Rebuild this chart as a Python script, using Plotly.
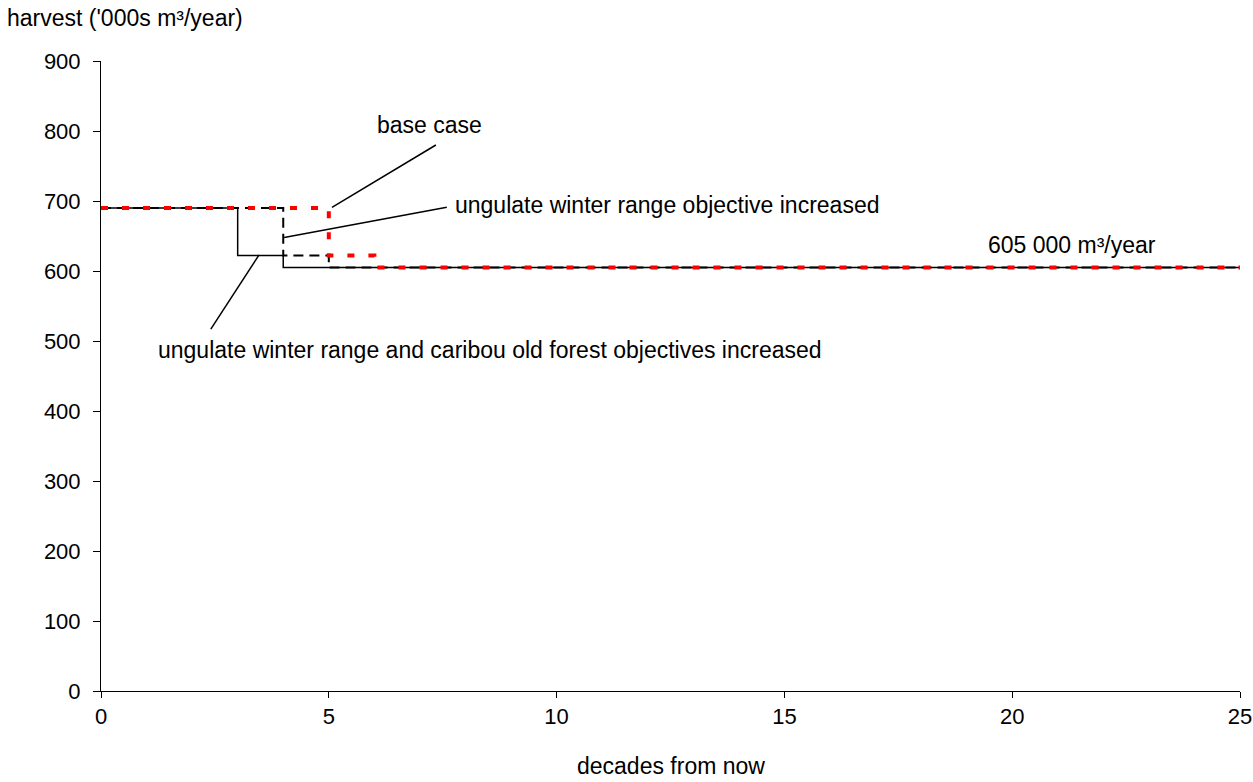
import plotly.graph_objects as go

decades = list(range(0, 26))
base_case = [690] * 5 + [622] + [605] * 20
ungulate_increased = [690] * 4 + [622] + [605] * 21
ungulate_caribou_increased = [690] * 3 + [622] + [605] * 22

x_ticks = [0, 5, 10, 15, 20, 25]
y_ticks = [0, 100, 200, 300, 400, 500, 600, 700, 800, 900]

FONT = "Liberation Sans, Arial, sans-serif"
FS = 23

fig = go.Figure()
fig.add_trace(go.Scatter(x=decades, y=ungulate_caribou_increased, mode="lines",
                         line=dict(color="black", width=1.5, shape="hv"),
                         name="ungulate winter range and caribou old forest objectives increased"))
fig.add_trace(go.Scatter(x=decades, y=ungulate_increased, mode="lines",
                         line=dict(color="black", width=2, dash="10px,6px", shape="hv"),
                         name="ungulate winter range objective increased"))
fig.add_trace(go.Scatter(x=decades, y=base_case, mode="lines",
                         line=dict(color="#ff0000", width=4, dash="7px,14px", shape="hv"),
                         name="base case"))

# leader lines (from line point to label)
leaders = [
    ((5.07, 691), (7.35, 780)),
    ((4.02, 648), (7.59, 691)),
    ((3.47, 623), (2.41, 517)),
]
for (x0, y0), (x1, y1) in leaders:
    fig.add_shape(type="line", xref="x", yref="y", x0=x0, y0=y0, x1=x1, y1=y1,
                  line=dict(color="black", width=1.5))

labels = [
    ("base case", 7.22, 808, "center"),
    ("ungulate winter range objective increased", 7.73, 694, "left"),
    ("ungulate winter range and caribou old forest objectives increased", 1.21, 487, "left"),
    ("605 000 m³/year", 19.42, 637, "left"),
]
for text, x, y, anchor in labels:
    fig.add_annotation(x=x, y=y, xref="x", yref="y", text=text, showarrow=False,
                       xanchor=anchor, yanchor="middle",
                       font=dict(family=FONT, size=FS, color="black"))

# axis titles
fig.add_annotation(x=-0.0843, y=1.068, xref="paper", yref="paper",
                   text="harvest ('000s m³/year)", showarrow=False,
                   xanchor="left", yanchor="middle",
                   font=dict(family=FONT, size=FS, color="black"))
fig.add_annotation(x=0.5, y=-0.1428, xref="paper", yref="paper",
                   text="decades from now", showarrow=False,
                   xanchor="center", yanchor="bottom",
                   font=dict(family=FONT, size=FS, color="black"))

fig.update_layout(
    width=1253, height=782,
    margin=dict(l=101, r=13, t=61, b=91),
    paper_bgcolor="white", plot_bgcolor="white",
    showlegend=False,
    font=dict(family=FONT, size=FS, color="black"),
    xaxis=dict(range=[0, 25], tickvals=x_ticks, showgrid=False, zeroline=False,
               showline=True, linecolor="black", linewidth=1,
               ticks="outside", ticklen=6, tickcolor="black", automargin=False,
               tickfont=dict(family=FONT, size=22)),
    yaxis=dict(range=[0, 900], tickvals=y_ticks, showgrid=False, zeroline=False,
               showline=True, linecolor="black", linewidth=1,
               ticks="outside", ticklen=7, tickcolor="black", automargin=False,
               tickfont=dict(family=FONT, size=22),
               ticklabelstandoff=8),
)

fig.write_html("out.html", config={"displayModeBar": False},
               post_script="document.body.style.margin='0px';")
